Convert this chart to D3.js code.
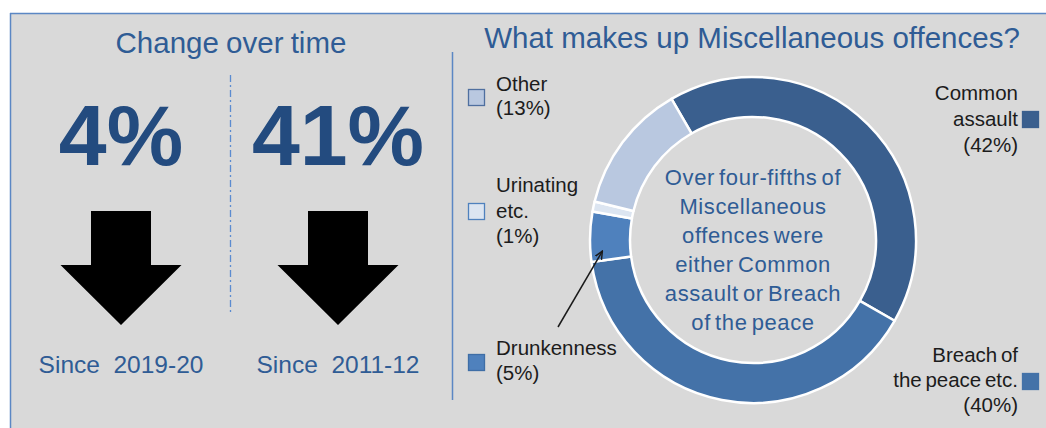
<!DOCTYPE html>
<html>
<head>
<meta charset="utf-8">
<script src="https://cdn.jsdelivr.net/npm/d3@7/dist/d3.min.js"></script>
<style>
  html, body { margin: 0; padding: 0; background: #ffffff; }
  svg { display: block; }
  text { font-family: "Liberation Sans", Arial, sans-serif; }
</style>
</head>
<body>
<svg id="chart" width="1046" height="428"></svg>
<script>
// Headline changes (both are decreases)
const changeValues = [4, 41];
const changePeriods = ["Since  2019-20", "Since  2011-12"];

// Composition of Miscellaneous offences (%)
const categories = ["Common assault", "Breach of the peace etc.", "Drunkenness", "Urinating etc.", "Other"];
const shares = [42, 40, 5, 1, 13];
const legendLines = [
  ["Common", "assault", "(42%)"],
  ["Breach of", "the peace etc.", "(40%)"],
  ["Drunkenness", "(5%)"],
  ["Urinating", "etc.", "(1%)"],
  ["Other", "(13%)"]
];
const centreNote = ["Over four-fifths of", "Miscellaneous", "offences were", "either Common", "assault or Breach", "of the peace"];

const W = 1046, H = 428;
const svg = d3.select("#chart");
const titleBlue = "#2f5c95";
const bigBlue = "#234b7f";
const lineBlue = "#5b87c4";

// Panel background and frame
svg.append("rect").attr("x", 10).attr("y", 13).attr("width", W - 10).attr("height", H - 13).attr("fill", "#d9d9d9");
svg.append("line").attr("x1", 10).attr("x2", W).attr("y1", 13.5).attr("y2", 13.5).attr("stroke", lineBlue).attr("stroke-width", 1.5);
svg.append("line").attr("x1", 10.5).attr("x2", 10.5).attr("y1", 13).attr("y2", H).attr("stroke", lineBlue).attr("stroke-width", 1.5);
// Divider between the two panels
svg.append("line").attr("x1", 452.5).attr("x2", 452.5).attr("y1", 52).attr("y2", 400).attr("stroke", lineBlue).attr("stroke-width", 1.5);

// ---------- Left panel: change over time ----------
svg.append("text").attr("x", 231).attr("y", 53).attr("text-anchor", "middle")
  .attr("font-size", 29.5).attr("fill", titleBlue).attr("word-spacing", -1).text("Change over time");

svg.append("line").attr("x1", 230.5).attr("x2", 230.5).attr("y1", 75).attr("y2", 313)
  .attr("stroke", "#5b8bd0").attr("stroke-width", 1.3).attr("stroke-dasharray", "7,3,2,3");

const xCol = d3.scalePoint().domain(changePeriods).range([121, 338]);

const cols = svg.selectAll("g.col").data(changePeriods.map((p, i) => ({ period: p, value: changeValues[i] })))
  .join("g").attr("class", "col").attr("transform", d => `translate(${xCol(d.period)},0)`);

cols.append("text").attr("x", 0).attr("y", 165).attr("text-anchor", "middle")
  .attr("font-size", 86).attr("font-weight", "bold").attr("fill", bigBlue)
  .text(d => d.value + "%");

// Down arrow: shaft 60 wide, head 121 wide
const arrowPath = "M-30,211 L30,211 L30,265 L60.5,265 L0,325 L-60.5,265 L-30,265 Z";
cols.append("path").attr("d", arrowPath).attr("fill", "#000");

cols.append("text").attr("x", 0).attr("y", 373).attr("text-anchor", "middle")
  .attr("font-size", 24.5).attr("fill", titleBlue).style("white-space", "pre")
  .text(d => d.period);

// ---------- Right panel: donut ----------
svg.append("text").attr("x", 752).attr("y", 48).attr("text-anchor", "middle")
  .attr("font-size", 29.5).attr("fill", titleBlue)
  .text("What makes up Miscellaneous offences?");

const colour = d3.scaleOrdinal().domain(categories)
  .range(["#3a5f8e", "#4472a8", "#4f81bd", "#dce5f1", "#b9c8e0"]);

const cx = 753, cy = 240;
const pie = d3.pie().sort(null).value(d => d.share)
  .startAngle(-30 * Math.PI / 180).endAngle(330 * Math.PI / 180);
const slices = pie(categories.map((c, i) => ({ cat: c, share: shares[i] })));
const arc = d3.arc().innerRadius(123).outerRadius(163);

const donut = svg.append("g").attr("transform", `translate(${cx},${cy})`);
donut.selectAll("path").data(slices).join("path")
  .attr("d", arc)
  .attr("fill", d => colour(d.data.cat))
  .attr("stroke", "#ffffff").attr("stroke-width", 2.5).attr("stroke-linejoin", "round");

// Centre note
svg.append("g").selectAll("text").data(centreNote).join("text")
  .attr("x", cx).attr("y", (d, i) => 185 + i * 29)
  .attr("text-anchor", "middle").attr("font-size", 22)
  .attr("font-family", "Lato, 'Open Sans', sans-serif")
  .attr("fill", titleBlue).attr("letter-spacing", 0.6).attr("word-spacing", -2.5)
  .text(d => d);

// Legend entries
const legendSpec = [
  { anchor: "end", x: 1018, y: 100, box: [1022, 111], lineH: 26 },
  { anchor: "end", x: 1018, y: 362, box: [1022, 373], lineH: 25 },
  { anchor: "start", x: 496, y: 355, box: [468, 354], lineH: 25 },
  { anchor: "start", x: 496, y: 192, box: [468, 203], lineH: 25.5 },
  { anchor: "start", x: 496, y: 91, box: [468, 89], lineH: 24 }
];
const boxStroke = ["#3a5f8e", "#4472a8", "#3f6ea6", "#4f81bd", "#4f6f9f"];

categories.forEach((c, i) => {
  const s = legendSpec[i];
  const g = svg.append("g");
  g.append("rect").attr("x", s.box[0] + 0.5).attr("y", s.box[1] + 0.5)
    .attr("width", 16).attr("height", 16)
    .attr("fill", colour(c)).attr("stroke", boxStroke[i]).attr("stroke-width", 1.3);
  g.selectAll("text").data(legendLines[i]).join("text")
    .attr("x", s.x).attr("y", (d, j) => s.y + j * s.lineH)
    .attr("text-anchor", s.anchor).attr("font-size", 20.5).attr("fill", "#1c1c1c")
    .attr("word-spacing", -2)
    .text(d => d);
});

// Pointer from the Drunkenness label to its slice
const drunk = slices[2];
const ang = drunk.startAngle + 3.5 * Math.PI / 180;
const tip = [cx + 151 * Math.sin(ang), cy - 151 * Math.cos(ang)];
const defs = svg.append("defs");
defs.append("marker").attr("id", "head").attr("viewBox", "0 0 10 10").attr("refX", 9).attr("refY", 5)
  .attr("markerWidth", 9).attr("markerHeight", 9).attr("orient", "auto").attr("markerUnits", "userSpaceOnUse")
  .append("path").attr("d", "M0,1 L9,5 L0,9").attr("fill", "none").attr("stroke", "#1a1a1a").attr("stroke-width", 1.6);
svg.append("line").attr("x1", 558).attr("y1", 327).attr("x2", tip[0]).attr("y2", tip[1])
  .attr("stroke", "#1a1a1a").attr("stroke-width", 1.5).attr("marker-end", "url(#head)");
</script>
</body>
</html>
